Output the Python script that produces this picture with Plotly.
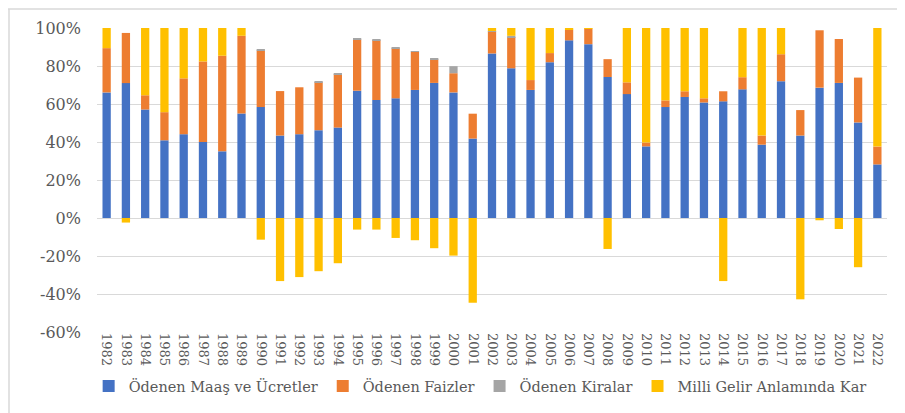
import plotly.graph_objects as go

years = [str(y) for y in range(1982, 2023)]

maas = [66.1, 71.0, 57.1, 40.9, 44.1, 40.0, 35.1, 55.0, 58.4, 43.4,
        44.1, 46.2, 47.6, 67.0, 62.1, 63.0, 67.4, 71.1, 66.1, 41.8,
        86.6, 78.8, 67.4, 82.0, 93.5, 91.5, 74.2, 65.2, 37.7, 58.4,
        63.7, 60.8, 61.4, 67.7, 38.6, 72.0, 43.4, 68.6, 71.1, 50.3, 28.2]

faiz = [23.3, 26.4, 7.5, 14.8, 29.4, 42.4, 50.3, 40.9, 29.8, 23.4,
        24.7, 25.3, 28.1, 27.0, 31.5, 26.3, 20.1, 12.4, 10.1, 13.1,
        11.6, 16.4, 5.2, 4.8, 5.6, 8.3, 9.4, 6.2, 2.0, 3.5,
        3.0, 2.2, 5.3, 6.4, 4.8, 14.2, 13.4, 30.2, 23.1, 23.6, 9.4]

kira = [0, 0, 0, 0, 0, 0, 0, 0, 0.4, 0,
        0, 0.5, 0.5, 0.3, 0.3, 0.3, 0.3, 0.4, 3.7, 0,
        0.2, 0.7, 0, 0, 0, 0, 0, 0, 0, 0,
        0, 0, 0, 0, 0, 0, 0, 0, 0, 0, 0]

kar = [10.6, -2.4, 35.4, 44.3, 26.5, 17.6, 14.6, 4.1, -11.4, -33.2,
       -31.1, -28.0, -23.8, -6.1, -6.1, -10.5, -11.7, -15.9, -19.8, -44.6,
       1.6, 4.1, 27.4, 13.2, 0.9, 0.2, -16.3, 28.6, 60.3, 38.1,
       33.3, 37.0, -33.2, 25.9, 56.6, 13.8, -42.8, -1.2, -5.8, -25.9, 62.4]

series_names = ["Ödenen Maaş ve Ücretler", "Ödenen Faizler",
                "Ödenen Kiralar", "Milli Gelir Anlamında Kar"]
colors = ["#4472C4", "#ED7D31", "#A5A5A5", "#FFC000"]

tick_vals = [-60, -40, -20, 0, 20, 40, 60, 80, 100]
tick_text = ["-60%", "-40%", "-20%", "0%", "20%", "40%", "60%", "80%", "100%"]

font_family = "DejaVu Serif"
text_color = "#595959"

fig = go.Figure()
for name, vals, col in zip(series_names, [maas, faiz, kira, kar], colors):
    fig.add_trace(go.Bar(x=years, y=vals, name=name,
                         marker=dict(color=col, line=dict(width=0))))

# page body has an 8px margin, so the figure is offset by (8, 8)
fig.update_layout(
    template="none",
    barmode="relative",
    bargap=0.57,
    width=897, height=405,
    margin=dict(l=89, r=18, t=20, b=81, autoexpand=False),
    paper_bgcolor="white",
    plot_bgcolor="white",
    font=dict(family=font_family, color=text_color, size=15),
    showlegend=True,
    legend=dict(orientation="h", x=0.485, xanchor="center",
                y=-0.125, yanchor="top",
                font=dict(size=14.5, color=text_color, family=font_family),
                itemwidth=30, tracegroupgap=0),
    xaxis=dict(type="category", tickangle=90, showgrid=False,
               showline=False, ticks="", automargin=False,
               tickfont=dict(size=13, color=text_color, family=font_family)),
    yaxis=dict(range=[-60, 100], tickvals=tick_vals, ticktext=tick_text,
               showgrid=True, gridcolor="#D9D9D9", gridwidth=1.3,
               zeroline=True, zerolinecolor="#D9D9D9", zerolinewidth=1.3,
               showline=False, ticks="", ticklabelstandoff=15, automargin=False,
               tickfont=dict(size=16, color=text_color, family=font_family)),
    shapes=[
        dict(type="line", xref="paper", yref="paper",
             x0=(0 - 89) / 790, x1=1.05, y0=(324 - 1) / 304, y1=(324 - 1) / 304,
             line=dict(color="#D9D9D9", width=1.5)),
        dict(type="line", xref="paper", yref="paper",
             x0=(1 - 89) / 790, x1=(1 - 89) / 790, y0=(324 - 1) / 304, y1=-0.3,
             line=dict(color="#D9D9D9", width=1.5)),
    ],
)

fig.write_html("out.html")
